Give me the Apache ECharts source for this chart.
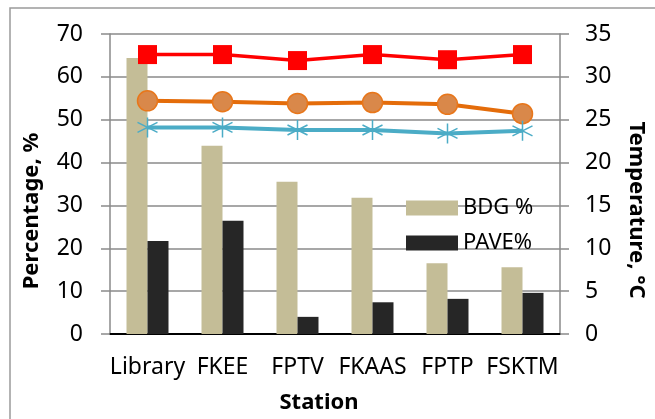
<!DOCTYPE html>
<html>
<head>
<meta charset="utf-8">
<script src="https://cdn.jsdelivr.net/npm/echarts@6/dist/echarts.min.js"></script>
<style>
  html, body { margin: 0; padding: 0; background: #fff; }
  #chart { width: 655px; height: 419px; }
</style>
</head>
<body>
<div id="chart"></div>
<script>
// Stations along the category axis
const stations = ['Library', 'FKEE', 'FPTV', 'FKAAS', 'FPTP', 'FSKTM'];

// Percentages (left axis)
const bdgPct  = [64.4, 43.9, 35.5, 31.8, 16.5, 15.6];
const pavePct = [21.7, 26.4, 4.0, 7.4, 8.2, 9.6];

// Temperatures (right axis)
const tempHigh = [32.6, 32.6, 31.9, 32.6, 32.0, 32.6];
const tempMid  = [27.2, 27.1, 26.9, 27.0, 26.8, 25.7];
const tempLow  = [24.1, 24.1, 23.8, 23.8, 23.4, 23.7];

const FONT = 'Noto Sans';
const GRID_GRAY = '#8a8a8a';

// asterisk marker: vertical stroke plus two diagonals
const starPath = 'path://M10,0L10,20M1.34,5L18.66,15M1.34,15L18.66,5';

const chart = echarts.init(document.getElementById('chart'), null, { renderer: 'canvas' });

chart.setOption({
  animation: false,
  backgroundColor: '#fff',
  grid: { left: 110, right: 95, top: 34, bottom: 85, containLabel: false },
  legend: {
    data: ['BDG %', 'PAVE%'],
    orient: 'vertical',
    left: 406,
    top: 197,
    padding: 0,
    itemWidth: 52,
    itemHeight: 15,
    itemGap: 13,
    icon: 'rect',
    textStyle: { fontFamily: FONT, fontSize: 22, color: '#000' }
  },
  xAxis: [
    {
      type: 'category',
      data: stations,
      position: 'bottom',
      axisLine: { lineStyle: { color: GRID_GRAY, width: 1.5 } },
      axisTick: { show: false },
      axisLabel: { fontFamily: FONT, fontSize: 23, color: '#000', margin: 22, interval: 0 }
    },
    {
      type: 'category',
      data: stations,
      position: 'top',
      axisLine: { lineStyle: { color: '#000', width: 2 } },
      axisTick: { show: false },
      axisLabel: { show: false }
    }
  ],
  yAxis: [
    {
      type: 'value',
      min: 0, max: 70, interval: 10,
      position: 'left',
      axisLine: { show: true, lineStyle: { color: GRID_GRAY, width: 1.5 } },
      axisTick: { show: true, inside: false, length: 9, lineStyle: { color: GRID_GRAY, width: 1.5 } },
      splitLine: { show: true, lineStyle: { color: GRID_GRAY, width: 1.5 } },
      axisLabel: { fontFamily: FONT, fontSize: 23, color: '#000', margin: 27 }
    },
    {
      type: 'value',
      min: 0, max: 35, interval: 5,
      position: 'right',
      axisLine: { show: true, lineStyle: { color: GRID_GRAY, width: 1.5 } },
      axisTick: { show: true, inside: false, length: 9, lineStyle: { color: GRID_GRAY, width: 1.5 } },
      splitLine: { show: false },
      axisLabel: { fontFamily: FONT, fontSize: 23, color: '#000', margin: 25 }
    }
  ],
  series: [
    {
      name: 'BDG %',
      type: 'bar',
      data: bdgPct,
      barWidth: 21,
      barGap: '0%',
      itemStyle: { color: '#C4BD97' }
    },
    {
      name: 'PAVE%',
      type: 'bar',
      data: pavePct,
      barWidth: 21,
      itemStyle: { color: '#262626' }
    },
    {
      name: 'T1',
      type: 'line',
      yAxisIndex: 1,
      data: tempHigh,
      symbol: 'rect',
      symbolSize: 19,
      lineStyle: { color: '#FF0000', width: 3.5 },
      itemStyle: { color: '#FF0000' }
    },
    {
      name: 'T2',
      type: 'line',
      yAxisIndex: 1,
      data: tempMid,
      symbol: 'circle',
      symbolSize: 20,
      lineStyle: { color: '#E46C0A', width: 4 },
      itemStyle: { color: '#D9884A', borderColor: '#E8761A', borderWidth: 1.5 }
    },
    {
      name: 'T3',
      type: 'line',
      yAxisIndex: 1,
      data: tempLow,
      symbol: starPath,
      symbolSize: 20,
      lineStyle: { color: '#4BACC6', width: 4 },
      itemStyle: { color: 'transparent', borderColor: '#4BACC6', borderWidth: 1.5 }
    }
  ],
  graphic: [
    {
      type: 'rect',
      silent: true,
      z: -10,
      shape: { x: 10, y: 8, width: 700, height: 460 },
      style: { fill: 'none', stroke: '#9a9a9a', lineWidth: 1.5 }
    },
    {
      type: 'text',
      x: 32, y: 211,
      rotation: Math.PI / 2,
      style: {
        text: 'Percentage, %',
        font: 'bold 22px "Noto Sans"',
        fill: '#000',
        align: 'center',
        verticalAlign: 'middle'
      }
    },
    {
      type: 'text',
      x: 636, y: 210,
      rotation: -Math.PI / 2,
      style: {
        text: 'Temperature, °C',
        font: 'bold 22px "Noto Sans"',
        fill: '#000',
        align: 'center',
        verticalAlign: 'middle'
      }
    },
    {
      type: 'text',
      x: 319, y: 403,
      style: {
        text: 'Station',
        font: 'bold 22px "Noto Sans"',
        fill: '#000',
        align: 'center',
        verticalAlign: 'middle'
      }
    }
  ]
});
</script>
</body>
</html>
